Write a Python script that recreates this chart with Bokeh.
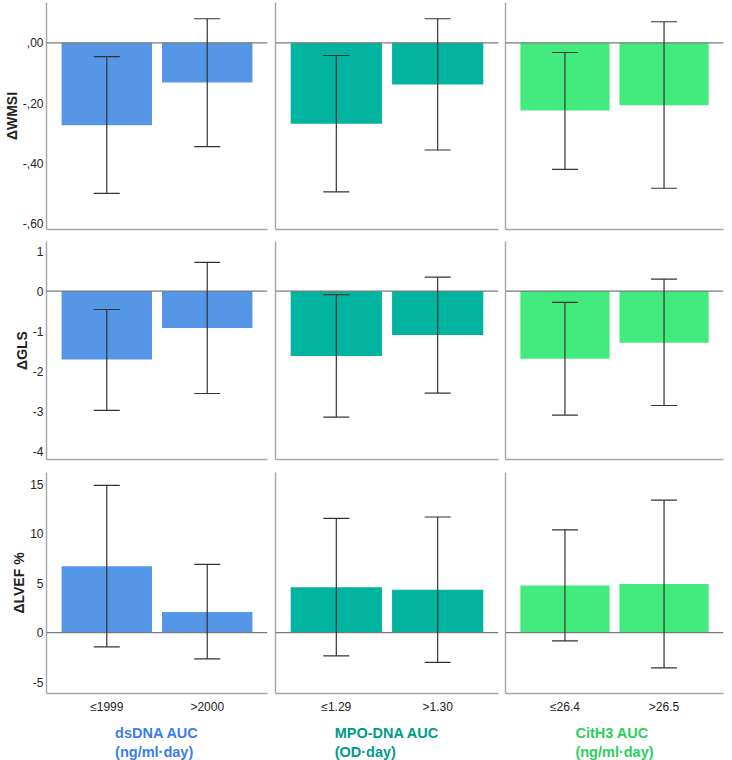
from bokeh.plotting import figure
from bokeh.models import (ColumnDataSource, Whisker, TeeHead, Span, FixedTicker,
                          Range1d, Title)
from bokeh.layouts import column, row
from bokeh.embed import file_html
from bokeh.resources import INLINE

# ---------------- data ----------------
group_names = ["dsDNA AUC", "MPO-DNA AUC", "CitH3 AUC"]
group_units = ["(ng/ml·day)", "(OD·day)", "(ng/ml·day)"]
cat_labels = [["≤1999", ">2000"], ["≤1.29", ">1.30"], ["≤26.4", ">26.5"]]
bar_colors = ["#5596E6", "#00B4A0", "#41EB7D"]
title_colors = ["#3B7DEE", "#009B8A", "#2DCF5C"]

measures = ["ΔWMSI", "ΔGLS", "ΔLVEF %"]

wmsi_mean = [[-0.274, -0.132], [-0.269, -0.138], [-0.225, -0.207]]
wmsi_low = [[-0.500, -0.345], [-0.495, -0.356], [-0.420, -0.483]]
wmsi_high = [[-0.046, 0.080], [-0.042, 0.080], [-0.032, 0.070]]

gls_mean = [[-1.71, -0.92], [-1.62, -1.10], [-1.69, -1.29]]
gls_low = [[-2.98, -2.56], [-3.15, -2.55], [-3.10, -2.86]]
gls_high = [[-0.46, 0.72], [-0.09, 0.35], [-0.28, 0.30]]

lvef_mean = [[6.72, 2.10], [4.60, 4.33], [4.77, 4.93]]
lvef_low = [[-1.43, -2.65], [-2.34, -3.00], [-0.83, -3.55]]
lvef_high = [[14.90, 6.90], [11.57, 11.70], [10.40, 13.40]]

wmsi_ticks = [0, -0.2, -0.4, -0.6]
wmsi_tick_labels = [",00", "-,20", "-,40", "-,60"]
gls_ticks = [1, 0, -1, -2, -3, -4]
gls_tick_labels = ["1", "0", "-1", "-2", "-3", "-4"]
lvef_ticks = [15, 10, 5, 0, -5]
lvef_tick_labels = ["15", "10", "5", "0", "-5"]

y_ranges = [(-0.62, 0.134), (-4.21, 1.24), (-6.15, 16.2)]

rows_data = [
    (wmsi_mean, wmsi_low, wmsi_high, wmsi_ticks, wmsi_tick_labels),
    (gls_mean, gls_low, gls_high, gls_ticks, gls_tick_labels),
    (lvef_mean, lvef_low, lvef_high, lvef_ticks, lvef_tick_labels),
]

FONT = "Liberation Sans"
AXIS_COLOR = "#a8a8a8"

frame_widths = [221, 223, 218]
borders_left = [46, 4, 4]
borders_right = [4, 3, 4]
frame_heights = [227, 218, 221]
borders_top = [2, 6, 7]
borders_bottom = [6, 6, 65]

rows = []
for r, (means, lows, highs, ticks, tick_labels) in enumerate(rows_data):
    figs = []
    for c in range(3):
        p = figure(output_backend="svg", toolbar_location=None,
                   frame_width=frame_widths[c], frame_height=frame_heights[r],
                   x_range=Range1d(0.4, 2.6),
                   y_range=Range1d(*y_ranges[r]),
                   min_border_left=borders_left[c],
                   min_border_right=borders_right[c],
                   min_border_top=borders_top[r],
                   min_border_bottom=borders_bottom[r],
                   background_fill_color="white", border_fill_color="white")
        p.outline_line_color = None
        p.grid.visible = False

        src = ColumnDataSource(dict(x=[1, 2], mean=means[c],
                                    lower=lows[c], upper=highs[c]))
        p.vbar(x="x", top="mean", bottom=0, width=0.9, source=src,
               fill_color=bar_colors[c], line_color=None)

        p.add_layout(Span(location=0, dimension="width", line_color="#7a7a7a",
                          line_width=1.2, level="overlay"))

        w = Whisker(source=src, base="x", upper="upper", lower="lower",
                    line_color="#333333", line_width=1.2, level="overlay",
                    upper_head=TeeHead(size=26, line_color="#333333", line_width=1.2),
                    lower_head=TeeHead(size=26, line_color="#333333", line_width=1.2))
        p.add_layout(w)

        # y axis
        ya = p.yaxis[0]
        ya.axis_line_color = AXIS_COLOR
        ya.axis_line_width = 1.5
        ya.major_tick_line_color = None
        ya.minor_tick_line_color = None
        ya.major_tick_out = 0
        ya.major_tick_in = 0
        ya.minor_tick_out = 0
        ya.minor_tick_in = 0
        if c == 0:
            ya.ticker = FixedTicker(ticks=ticks)
            ya.major_label_overrides = {t: l for t, l in zip(ticks, tick_labels)}
            ya.major_label_text_font = FONT
            ya.major_label_text_font_size = "12px"
            ya.major_label_text_color = "#222222"
            ya.major_label_standoff = 3
            ya.axis_label = measures[r]
            ya.axis_label_text_font = FONT
            ya.axis_label_text_font_size = "14px"
            ya.axis_label_text_font_style = "bold"
            ya.axis_label_text_color = "#222222"
            ya.axis_label_standoff = 0
        else:
            ya.ticker = FixedTicker(ticks=[])
            ya.major_label_standoff = 0

        # x axis
        xa = p.xaxis[0]
        xa.axis_line_color = AXIS_COLOR
        xa.axis_line_width = 1.5
        xa.major_tick_line_color = None
        xa.minor_tick_line_color = None
        xa.major_tick_out = 0
        xa.major_tick_in = 0
        xa.minor_tick_out = 0
        xa.minor_tick_in = 0
        if r == 2:
            xa.ticker = FixedTicker(ticks=[1, 2])
            xa.major_label_overrides = {1: cat_labels[c][0], 2: cat_labels[c][1]}
            xa.major_label_text_font = FONT
            xa.major_label_text_font_size = "12px"
            xa.major_label_text_color = "#222222"
            xa.major_label_standoff = 6
            t = Title(text=group_names[c] + "\n" + group_units[c], align="center",
                      text_font=FONT, text_font_size="14.5px",
                      text_font_style="bold", text_color=title_colors[c],
                      text_line_height=1.2, standoff=14)
            p.add_layout(t, "below")
        else:
            xa.ticker = FixedTicker(ticks=[])
            xa.major_label_standoff = 0
        figs.append(p)
    rows.append(row(*figs))

layout = column(*rows)

open("out.html", "w").write(file_html(layout, INLINE))
